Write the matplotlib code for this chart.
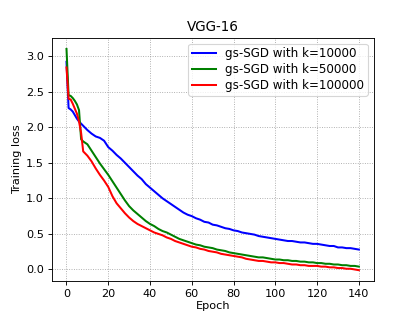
import matplotlib
matplotlib.use("Agg")
import matplotlib.pyplot as plt

epochs = [0, 1, 2, 3, 4, 5, 6, 7, 8, 9, 10] + list(range(12, 141, 2))

loss_k10000 = [
    2.92, 2.27, 2.25, 2.22, 2.17, 2.12, 2.08, 2.05, 2.02, 1.99, 1.96,
    1.91, 1.87, 1.85, 1.81, 1.72, 1.67, 1.61, 1.56, 1.50, 1.44,
    1.38, 1.32, 1.27, 1.20, 1.15, 1.10, 1.05, 1.00, 0.96, 0.92,
    0.88, 0.84, 0.80, 0.77, 0.75, 0.72, 0.70, 0.67, 0.66, 0.63,
    0.62, 0.60, 0.58, 0.57, 0.55, 0.54, 0.52, 0.51, 0.50, 0.49,
    0.47, 0.46, 0.45, 0.44, 0.43, 0.42, 0.41, 0.40, 0.40, 0.39,
    0.38, 0.38, 0.37, 0.36, 0.36, 0.35, 0.34, 0.33, 0.33, 0.31,
    0.31, 0.30, 0.30, 0.29, 0.28,
]
loss_k50000 = [
    3.10, 2.45, 2.44, 2.41, 2.37, 2.32, 2.24, 1.83, 1.80, 1.78, 1.76,
    1.67, 1.58, 1.49, 1.41, 1.33, 1.24, 1.15, 1.06, 0.97, 0.89,
    0.83, 0.78, 0.73, 0.68, 0.64, 0.61, 0.57, 0.54, 0.52, 0.49,
    0.46, 0.43, 0.41, 0.39, 0.37, 0.35, 0.34, 0.32, 0.31, 0.30,
    0.28, 0.27, 0.26, 0.24, 0.23, 0.22, 0.21, 0.20, 0.19, 0.18,
    0.17, 0.17, 0.16, 0.15, 0.14, 0.14, 0.13, 0.13, 0.12, 0.12,
    0.11, 0.11, 0.10, 0.10, 0.09, 0.09, 0.08, 0.08, 0.07, 0.07,
    0.06, 0.06, 0.05, 0.05, 0.04,
]
loss_k100000 = [
    2.84, 2.40, 2.39, 2.33, 2.26, 2.19, 2.08, 1.92, 1.66, 1.63, 1.60,
    1.52, 1.42, 1.33, 1.25, 1.16, 1.03, 0.93, 0.86, 0.79, 0.73,
    0.68, 0.64, 0.61, 0.58, 0.55, 0.52, 0.50, 0.48, 0.45, 0.43,
    0.40, 0.38, 0.36, 0.34, 0.32, 0.31, 0.29, 0.28, 0.26, 0.25,
    0.24, 0.22, 0.21, 0.20, 0.19, 0.18, 0.17, 0.15, 0.14, 0.13,
    0.12, 0.12, 0.11, 0.10, 0.10, 0.09, 0.09, 0.08, 0.07, 0.07,
    0.06, 0.06, 0.05, 0.05, 0.05, 0.04, 0.04, 0.03, 0.03, 0.02,
    0.02, 0.01, 0.01, 0.00, -0.01,
]

series = [
    (loss_k10000, "blue", "gs-SGD with k=10000"),
    (loss_k50000, "green", "gs-SGD with k=50000"),
    (loss_k100000, "red", "gs-SGD with k=100000"),
]

dpi = 81
fig, ax = plt.subplots(figsize=(415 / dpi, 316 / dpi), dpi=dpi)
for values, color, label in series:
    ax.plot(epochs, values, color=color, linewidth=1.8, label=label)

ax.set_title("VGG-16")
ax.set_xlabel("Epoch", labelpad=2)
ax.set_ylabel("Training loss")
ax.set_xticks(range(0, 141, 20))
ax.grid(True, linestyle=":", color="grey", alpha=0.7)
ax.legend(loc="upper right", fontsize=10.5, labelspacing=0.25, borderpad=0.3)

fig.savefig("out.png", dpi=dpi)
